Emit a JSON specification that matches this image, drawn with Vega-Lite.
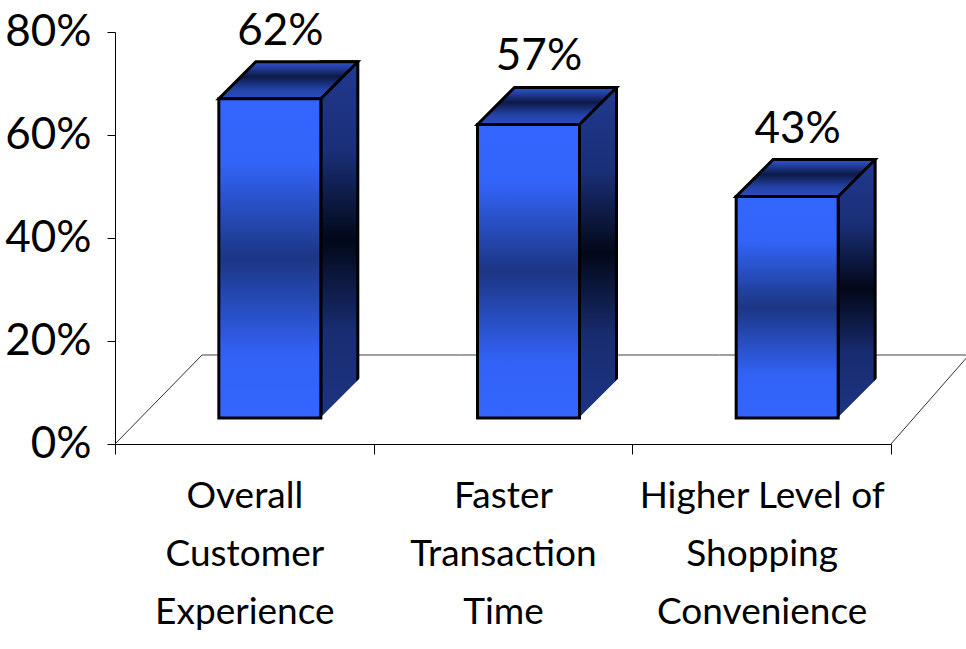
{
  "$schema": "https://vega.github.io/schema/vega-lite/v6.json",
  "width": 851,
  "height": 412,
  "autosize": {"type": "none"},
  "padding": {"left": 115, "top": 32, "right": 0, "bottom": 205},
  "background": "white",
  "config": {
    "view": {"stroke": null},
    "font": "Lato, sans-serif"
  },
  "data": {
    "values": [
      {"label": "Overall\nCustomer\nExperience", "share": 0.62},
      {"label": "Faster\nTransaction\nTime", "share": 0.57},
      {"label": "Higher Level of\nShopping\nConvenience", "share": 0.43}
    ]
  },
  "encoding": {
    "x": {
      "field": "label",
      "type": "nominal",
      "sort": null,
      "scale": {"range": [0, 776], "paddingInner": 0, "paddingOuter": 0},
      "axis": {
        "title": null,
        "labelAngle": 0,
        "labelExpr": "split(datum.label, '\\n')",
        "labelFontSize": 37,
        "labelLineHeight": 58,
        "labelLimit": 0,
        "labelColor": "black",
        "labelPadding": 24,
        "labelFont": "Lato, sans-serif",
        "tickBand": "extent",
        "tickSize": 10,
        "tickColor": "black",
        "tickWidth": 1,
        "domainColor": "black",
        "domainWidth": 1.2
      }
    },
    "y": {
      "field": "share",
      "type": "quantitative",
      "scale": {"domain": [0, 0.8], "nice": false},
      "axis": {
        "title": null,
        "values": [0, 0.2, 0.4, 0.6, 0.8],
        "format": ".0%",
        "grid": false,
        "labelFontSize": 44,
        "labelColor": "black",
        "labelPadding": 16,
        "labelFont": "Lato, sans-serif",
        "tickSize": 8,
        "tickColor": "black",
        "tickWidth": 1,
        "domainColor": "black",
        "domainWidth": 1
      }
    }
  },
  "layer": [
    {
      "description": "floor: back edge, one segment per category band",
      "mark": {
        "type": "rule",
        "stroke": "#808080",
        "strokeWidth": 1.5,
        "xOffset": -42.3,
        "x2Offset": 216.4,
        "yOffset": -89,
        "y2Offset": -89
      },
      "encoding": {
        "x2": {"field": "label"},
        "y": {"datum": 0},
        "y2": {"datum": 0}
      }
    },
    {
      "description": "floor: left edge",
      "transform": [{"filter": {"field": "label", "equal": "Overall\nCustomer\nExperience"}}],
      "mark": {
        "type": "rule",
        "stroke": "#303030",
        "strokeWidth": 1,
        "xOffset": -129.3,
        "x2Offset": -42.3,
        "yOffset": 0,
        "y2Offset": -89
      },
      "encoding": {
        "x2": {"field": "label"},
        "y": {"datum": 0},
        "y2": {"datum": 0}
      }
    },
    {
      "description": "floor: right edge",
      "transform": [{"filter": {"field": "label", "equal": "Higher Level of\nShopping\nConvenience"}}],
      "mark": {
        "type": "rule",
        "stroke": "#303030",
        "strokeWidth": 1,
        "xOffset": 129.3,
        "x2Offset": 207.3,
        "yOffset": 0,
        "y2Offset": -89
      },
      "encoding": {
        "x2": {"field": "label"},
        "y": {"datum": 0},
        "y2": {"datum": 0}
      }
    },
    {
      "description": "bar side face",
      "mark": {
        "type": "bar",
        "width": 37,
        "xOffset": 95,
        "yOffset": -63,
        "y2Offset": -26,
        "stroke": "black",
        "strokeWidth": 3,
        "fill": {
          "gradient": "linear",
          "x1": 0, "y1": 0, "x2": 0, "y2": 1,
          "stops": [
            {"offset": 0, "color": "#21398f"},
            {"offset": 0.25, "color": "#1a2f78"},
            {"offset": 0.5, "color": "#020818"},
            {"offset": 0.75, "color": "#182c70"},
            {"offset": 1, "color": "#1d3482"}
          ]
        }
      },
      "encoding": {"y2": {"datum": 0}}
    },
    {
      "description": "cut-off corner below the side face",
      "mark": {
        "type": "point",
        "shape": "M-1,1L1,-1L1,1Z",
        "size": 1849,
        "filled": true,
        "fill": "white",
        "strokeWidth": 0,
        "opacity": 1,
        "xOffset": 95.2,
        "yOffset": -45.5
      },
      "encoding": {"y": {"datum": 0}}
    },
    {
      "description": "bar top face",
      "mark": {
        "type": "point",
        "shape": "M-1,0.2662L0.4676,0.2662L1,-0.2662L-0.4676,-0.2662Z",
        "size": 19321,
        "filled": true,
        "opacity": 1,
        "stroke": "black",
        "strokeWidth": 3,
        "strokeJoin": "miter",
        "xOffset": 44,
        "yOffset": -44.5,
        "fill": {
          "gradient": "linear",
          "x1": 0, "y1": 0, "x2": 0, "y2": 1,
          "stops": [
            {"offset": 0, "color": "#3256d8"},
            {"offset": 0.4, "color": "#0d1a48"},
            {"offset": 0.75, "color": "#2443a8"},
            {"offset": 1, "color": "#2b4cc0"}
          ]
        }
      }
    },
    {
      "description": "bar front face",
      "mark": {
        "type": "bar",
        "width": 102,
        "xOffset": 25.5,
        "yOffset": -26,
        "y2Offset": -26,
        "stroke": "black",
        "strokeWidth": 3,
        "fill": {
          "gradient": "linear",
          "x1": 0, "y1": 0, "x2": 0, "y2": 1,
          "stops": [
            {"offset": 0, "color": "#3366ff"},
            {"offset": 0.2, "color": "#3264f8"},
            {"offset": 0.5, "color": "#1c3684"},
            {"offset": 0.8, "color": "#3262f5"},
            {"offset": 1, "color": "#3366ff"}
          ]
        }
      },
      "encoding": {"y2": {"datum": 0}}
    },
    {
      "description": "value labels",
      "mark": {
        "type": "text",
        "fontSize": 44,
        "align": "center",
        "baseline": "alphabetic",
        "color": "black",
        "xOffset": 36,
        "yOffset": -80
      },
      "encoding": {
        "text": {"field": "share", "type": "quantitative", "format": ".0%"}
      }
    }
  ]
}
